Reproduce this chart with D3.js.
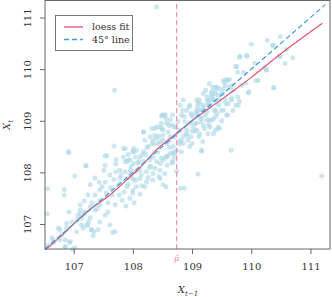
<!DOCTYPE html>
<html>
<head>
<meta charset="utf-8">
<script src="https://cdn.jsdelivr.net/npm/d3@7"></script>
<style>
  body { margin: 0; background: #fff; }
  svg { display: block; font-family: "DejaVu Serif", serif; }
</style>
</head>
<body>
<svg id="chart" width="332" height="297"></svg>
<script>
// lagged value X_{t-1}
const xPrev = [
  108.40, 107.69, 111.19, 109.10, 108.80, 108.87, 108.74, 108.67, 109.16, 109.66,
  106.92, 106.56, 106.55, 107.02, 106.84, 106.84, 106.92, 107.66, 107.30, 107.34,
  107.21, 107.56, 107.71, 107.53, 106.91, 107.53, 108.00, 108.04, 108.16, 108.10,
  107.92, 107.87, 107.97, 107.20, 107.11, 107.13, 107.22, 106.88, 106.88, 106.77,
  106.63, 106.77, 106.94, 107.02, 106.85, 106.57, 106.66, 110.00, 110.27, 110.49,
  110.36, 110.47, 110.57, 109.81, 109.92, 109.75, 110.06, 110.23, 110.26, 110.12,
  109.87, 109.95, 110.38, 109.80, 109.78, 109.67, 109.53, 109.58, 109.63, 109.56,
  109.67, 109.53, 109.42, 109.39, 109.50, 109.33, 109.30, 109.36, 109.27, 109.42,
  109.47, 109.56, 109.61, 109.19, 109.30, 109.13, 109.25, 109.39, 109.08, 109.02,
  109.16, 109.33, 109.58, 109.53, 109.44, 109.19, 109.02, 110.70, 110.59,
  108.85, 108.96, 108.91, 108.99, 108.82, 109.08, 109.19, 109.27, 109.36, 109.33,
  109.44, 109.13, 109.25, 109.36, 109.42, 109.30, 109.13, 109.36, 109.27, 109.16,
  108.54, 108.49, 108.63, 108.57, 108.51, 108.46, 108.37, 108.37, 108.18, 108.20,
  108.29, 108.34, 108.51, 108.43, 108.57, 108.63, 108.68, 108.63, 108.57, 108.74,
  108.71, 108.82, 108.85, 108.96, 108.85, 108.91, 108.96, 109.08, 109.08,
  108.01, 108.06, 108.18, 108.12, 107.95, 107.90, 107.84, 108.01, 108.18, 108.29,
  108.34, 108.40, 108.46, 108.51, 107.78, 107.87, 107.95, 108.04, 108.12, 108.23,
  108.34, 107.90, 108.01, 108.12, 108.23, 108.34, 108.46, 108.51, 107.78, 107.90,
  108.06, 108.20, 107.87, 108.46, 108.54, 108.37,
  109.19, 109.25, 109.39, 109.08, 109.13,
  107.28, 107.36, 107.44, 107.53, 107.61, 107.65, 107.75, 107.78, 107.85, 107.92,
  107.95, 108.00, 108.05, 108.12, 108.15, 107.44, 107.58, 107.70, 107.82, 107.36,
  107.51, 107.71, 107.24, 107.31, 107.88, 108.02, 107.66, 107.55, 107.43, 107.77,
  107.11, 107.19, 107.07, 107.28, 107.36, 107.44, 107.53, 107.24, 107.41, 106.97,
  107.16, 107.61, 107.70, 107.58, 107.33,
  108.59, 108.67, 108.70, 108.66, 108.56,
  108.56, 108.61, 108.67, 108.76, 108.84, 108.78, 108.87, 108.95, 108.98, 109.07,
  109.12, 109.09, 109.18, 109.26, 109.29, 109.35, 109.38, 109.40, 109.29, 109.15,
  109.04, 109.21, 108.90, 108.98, 108.81, 108.70, 108.61, 109.12, 109.40, 109.46,
  109.66, 109.69, 109.60, 109.60, 109.54, 109.63, 109.69, 109.77, 109.74, 109.57,
  109.49, 109.52, 109.46, 109.35, 109.23, 109.29, 109.40,
  109.74, 109.77, 109.80, 109.93, 109.91, 110.08, 110.25, 110.37, 110.49, 110.38,
  109.96, 109.84,
  108.18, 108.32, 108.40, 108.49, 108.51, 108.40, 108.46, 108.32, 108.49, 108.54,
  107.68, 107.84, 108.01,
  106.66, 106.86, 106.93, 106.98, 106.86, 106.80, 106.74, 107.05, 107.13, 107.25,
  107.30, 107.19, 107.11, 107.28, 107.44,
  108.26, 108.44, 108.62, 108.70, 108.80, 108.92, 109.00, 108.30, 108.48, 108.66,
  107.62, 107.80, 107.96, 108.08, 108.22, 108.28, 108.42, 108.55, 108.60, 108.72,
  108.78, 108.88, 108.93, 109.05, 109.10, 109.22, 109.32, 109.45, 108.14, 107.98,
  107.68, 107.48, 107.40, 107.18, 107.06, 108.36, 108.48, 108.58, 108.80, 108.68,
  109.00, 109.18, 108.24, 107.72, 107.92, 108.00, 108.26, 108.44, 109.28, 109.50
];
// current value X_t
const xCurr = [
  111.21, 109.59, 107.93, 107.97, 107.69, 107.69, 108.02, 108.18, 108.41, 108.43,
  108.38, 107.68, 107.20, 107.93, 107.67, 107.56, 107.23, 106.84, 106.89, 106.85,
  108.13, 108.32, 108.16, 108.14, 108.40, 108.32, 108.40, 108.30, 108.34, 108.21,
  108.24, 108.21, 108.12, 108.13, 107.21, 107.11, 106.98, 107.01, 106.92, 106.89,
  106.73, 106.69, 106.66, 106.54, 106.56, 106.59, 106.64, 110.48, 110.56, 110.63,
  110.46, 110.25, 110.11, 110.25, 110.27, 110.05, 110.11, 110.03, 109.98, 109.78,
  109.94, 109.54, 109.64, 109.38, 109.30, 109.43, 109.78, 109.80, 109.80, 109.69,
  109.69, 109.62, 109.65, 109.53, 109.53, 109.56, 109.40, 109.40, 109.36, 109.36,
  109.40, 109.40, 109.33, 109.30, 109.27, 109.21, 109.17, 109.21, 109.14, 109.07,
  109.04, 109.01, 109.11, 109.21, 108.88, 108.91, 108.88, 110.22, 110.38,
  109.40, 109.30, 109.20, 109.14, 109.11, 109.20, 109.24, 109.30, 109.40, 109.53,
  109.49, 109.07, 109.01, 109.04, 109.14, 108.88, 108.75, 108.75, 108.75, 108.43,
  109.11, 109.09, 109.02, 108.95, 108.82, 108.88, 108.85, 108.72, 108.78, 108.62,
  108.69, 108.62, 108.62, 108.56, 108.56, 108.69, 108.50, 108.37, 108.30, 108.43,
  108.33, 108.40, 108.56, 108.50, 108.69, 108.82, 108.95, 108.95, 108.82,
  108.40, 108.43, 108.40, 108.30, 108.24, 108.21, 108.30, 108.17, 108.21, 108.24,
  108.30, 108.21, 108.17, 108.24, 108.04, 108.01, 107.98, 108.01, 108.04, 108.01,
  107.98, 107.88, 107.85, 107.88, 107.82, 107.85, 107.88, 107.76, 107.79, 107.72,
  107.72, 107.72, 108.46, 108.04, 107.98, 108.08,
  109.53, 109.46, 109.56, 109.40, 109.33,
  107.76, 107.89, 107.66, 107.81, 107.95, 107.56, 107.74, 107.89, 107.62, 107.77,
  107.50, 107.66, 107.85, 107.58, 107.74, 107.46, 107.41, 107.37, 107.46, 107.56,
  108.04, 108.01, 107.56, 107.41, 107.35, 107.41, 107.66, 107.60, 107.81, 107.56,
  107.37, 107.23, 107.17, 107.12, 107.27, 107.04, 107.17, 106.98, 106.89, 107.04,
  106.92, 106.98, 106.85, 107.23, 106.77,
  108.32, 108.37, 108.40, 108.19, 107.72,
  109.04, 108.91, 109.11, 108.98, 109.20, 108.82, 109.08, 109.27, 109.11, 109.17,
  109.40, 109.27, 109.20, 109.40, 109.30, 109.46, 109.20, 109.08, 109.01, 108.98,
  108.95, 108.85, 108.75, 108.69, 108.62, 108.69, 108.62, 108.69, 108.82, 108.85,
  109.40, 109.20, 109.11, 109.78, 109.75, 109.65, 109.59, 109.46, 109.30, 109.33,
  109.20, 109.53, 109.62, 109.65, 109.59, 109.72, 109.65,
  110.05, 109.94, 110.23, 110.25, 109.73, 109.78, 109.99, 110.47, 110.25, 109.64,
  109.56, 109.69,
  108.78, 108.85, 108.88, 108.85, 108.72, 108.66, 108.59, 108.56, 109.11, 109.11,
  108.51, 108.46, 108.46,
  106.69, 106.69, 106.64, 106.51, 106.56, 106.79, 106.92, 106.85, 106.98, 107.05,
  106.89, 107.21, 107.27, 107.34, 107.37,
  108.50, 108.70, 108.48, 108.88, 108.60, 108.72, 108.80, 108.12, 108.28, 108.92,
  107.70, 107.95, 108.05, 108.18, 108.35, 108.10, 108.40, 108.30, 108.78, 108.88,
  108.55, 108.98, 108.62, 108.80, 109.35, 109.10, 109.48, 109.30, 107.95, 107.90,
  107.86, 107.72, 107.30, 107.45, 107.08, 108.55, 108.95, 108.14, 109.30, 108.25,
  108.56, 108.60, 108.48, 108.25, 108.35, 107.60, 107.90, 107.92, 108.92, 109.00
];

// loess fit through the scatter
const loessX = [106.52, 106.80, 107.00, 107.27, 107.60, 107.90, 108.12, 108.30, 108.40, 108.70, 109.00, 109.30, 109.60, 110.00, 110.50, 111.20];
const loessY = [106.50, 106.78, 107.00, 107.28, 107.55, 107.86, 108.09, 108.32, 108.44, 108.72, 109.00, 109.25, 109.50, 109.84, 110.30, 110.89];

const muHat = 108.74;
const ticks = [107, 108, 109, 110, 111];
const domain = [106.515, 111.33];
const legendItems = [
  { label: "loess fit", color: "#e2546f", dash: null },
  { label: "45\u00b0 line", color: "#3d9be0", dash: "5,3" }
];

const svg = d3.select("#chart");
const margin = { left: 45, top: 0.5, right: 330, bottom: 249 };

const x = d3.scaleLinear().domain(domain).range([margin.left, margin.right]);
const y = d3.scaleLinear().domain(domain).range([margin.bottom, margin.top]);

const plot = svg.append("g").attr("class", "plot");

// scatter
plot.append("g")
  .attr("class", "points")
  .selectAll("circle")
  .data(d3.range(xPrev.length))
  .join("circle")
  .attr("cx", (i) => x(xPrev[i]))
  .attr("cy", (i) => y(xCurr[i]))
  .attr("r", 2.5)
  .attr("fill", "#add8e6")
  .attr("fill-opacity", 0.62);

// mu hat
plot.append("line")
  .attr("x1", x(muHat)).attr("x2", x(muHat))
  .attr("y1", y(domain[0])).attr("y2", y(domain[1]))
  .attr("stroke", "#f07a96")
  .attr("stroke-width", 1)
  .attr("stroke-dasharray", "5,3");

svg.append("text")
  .attr("x", x(muHat))
  .attr("y", 261)
  .attr("text-anchor", "middle")
  .attr("font-size", 8)
  .attr("font-style", "italic")
  .attr("fill", "#f07a96")
  .text("\u03bc\u0302");

// loess
const line = d3.line().x((d) => x(d[0])).y((d) => y(d[1])).curve(d3.curveCatmullRom);
plot.append("path")
  .datum(loessX.map((v, i) => [v, loessY[i]]))
  .attr("d", line)
  .attr("fill", "none")
  .attr("stroke", legendItems[0].color)
  .attr("stroke-width", 1.2);

// 45 degree
plot.append("path")
  .datum([[domain[0], domain[0]], [111.25, 111.25]])
  .attr("d", d3.line().x((d) => x(d[0])).y((d) => y(d[1])))
  .attr("fill", "none")
  .attr("stroke", legendItems[1].color)
  .attr("stroke-width", 1.2)
  .attr("stroke-dasharray", "5,3");

// frame
svg.append("rect")
  .attr("x", margin.left).attr("y", margin.top)
  .attr("width", margin.right - margin.left)
  .attr("height", margin.bottom - margin.top)
  .attr("fill", "none")
  .attr("stroke", "#666")
  .attr("stroke-width", 1);

// axes
const fmt = d3.format("d");
const xAxis = svg.append("g")
  .attr("transform", `translate(0,${margin.bottom})`)
  .call(d3.axisBottom(x).tickValues(ticks).tickFormat(fmt).tickSize(5).tickPadding(9));
const yAxis = svg.append("g")
  .attr("transform", `translate(${margin.left},0)`)
  .call(d3.axisLeft(y).tickValues(ticks).tickFormat(fmt).tickSize(5).tickPadding(9));

[xAxis, yAxis].forEach((g) => {
  g.select(".domain").remove();
  g.selectAll(".tick line").attr("stroke", "#666");
  g.selectAll(".tick text")
    .attr("font-family", "'DejaVu Serif', serif")
    .attr("font-size", 10)
    .attr("fill", "#333");
});
yAxis.selectAll(".tick text")
  .attr("x", 0).attr("dy", null)
  .attr("text-anchor", "middle")
  .attr("transform", "translate(-14,0) rotate(-90)");

// axis titles
const xt = svg.append("text")
  .attr("x", 188).attr("y", 293)
  .attr("text-anchor", "middle")
  .attr("font-size", 10)
  .attr("fill", "#333");
xt.append("tspan").attr("font-style", "italic").text("X");
xt.append("tspan").attr("font-size", 7).attr("dy", 2.5).attr("font-style", "italic").text("t\u22121");

const yt = svg.append("text")
  .attr("transform", "translate(10,125) rotate(-90)")
  .attr("text-anchor", "middle")
  .attr("font-size", 10)
  .attr("fill", "#333");
yt.append("tspan").attr("font-style", "italic").text("X");
yt.append("tspan").attr("font-size", 7).attr("dy", 2.5).attr("font-style", "italic").text("t");

// legend
const legend = svg.append("g").attr("class", "legend");
legend.append("rect")
  .attr("x", 55.5).attr("y", 15.5).attr("width", 77).attr("height", 35)
  .attr("fill", "#fff").attr("stroke", "#777").attr("stroke-width", 1);
const rows = legend.selectAll("g.row")
  .data(legendItems)
  .join("g")
  .attr("class", "row")
  .attr("transform", (d, i) => `translate(0,${27 + i * 12.5})`);
rows.append("line")
  .attr("x1", 64).attr("x2", 83)
  .attr("stroke", (d) => d.color)
  .attr("stroke-width", 1.3)
  .attr("stroke-dasharray", (d) => d.dash);
rows.append("text")
  .attr("x", 92).attr("dy", "0.33em")
  .attr("font-size", 9.5)
  .attr("fill", "#333")
  .text((d) => d.label);
</script>
</body>
</html>
